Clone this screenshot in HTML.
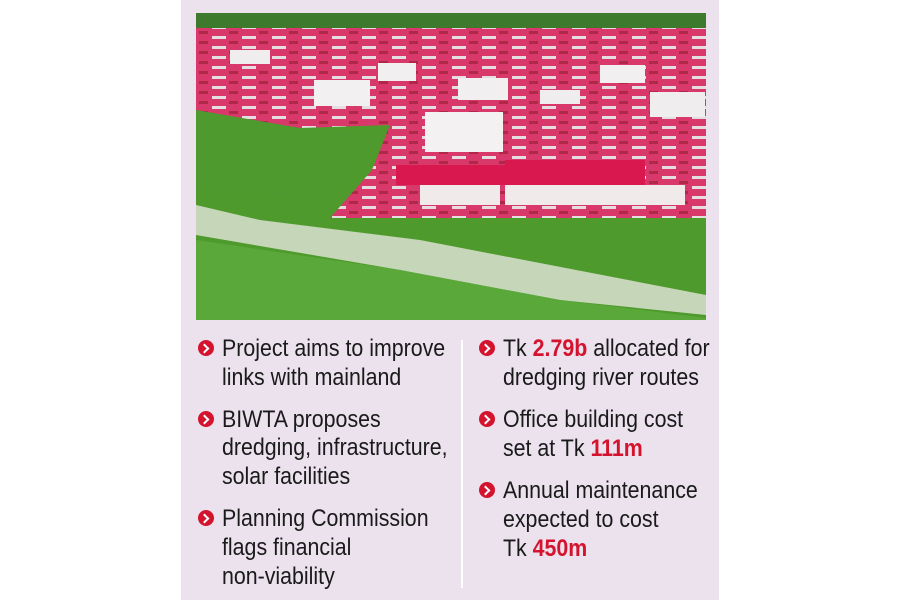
<!DOCTYPE html>
<html><head><meta charset="utf-8"><style>
body{margin:0;width:900px;height:600px;background:#fff;position:relative;overflow:hidden;font-family:"Liberation Sans",sans-serif;}
#panel{position:absolute;left:181px;top:0;width:538px;height:600px;background:#ebe2ee;}
.l{position:absolute;font-size:24px;color:#1a1a1a;white-space:nowrap;line-height:29px;transform:scaleX(0.89);transform-origin:left center;}
.b{position:absolute;width:16px;height:16px;border-radius:50%;background:#d4142e;}
.b:after{content:"";position:absolute;left:3px;top:4.5px;width:5px;height:5px;border-top:2.5px solid #fff;border-right:2.5px solid #fff;transform:rotate(45deg);}
.r{color:#d4142e;font-weight:bold;}
#div{position:absolute;left:461px;top:340px;width:2px;height:248px;background:#fff;}
</style></head><body>
<div id="panel"></div>
<svg style="position:absolute;left:196px;top:13px" width="510" height="307" viewBox="196 13 510 307">
<defs>
<pattern id="city" width="30" height="10" patternUnits="userSpaceOnUse">
<rect width="30" height="10" fill="#d8386a"/>
<rect x="2" y="6" width="14" height="3" fill="#e6dde2"/>
<rect x="19" y="1" width="9" height="3" fill="#b02848"/>
</pattern>
</defs>
<rect x="196" y="13" width="510" height="307" fill="#4f9a2c"/>
<rect x="196" y="13" width="510" height="18" fill="#3d7a2e"/>
<polygon points="196,28 706,28 706,218 330,218 372,170 390,125 300,128 196,112" fill="url(#city)"/>
<rect x="314" y="80" width="56" height="26" fill="#f2f0f0"/>
<rect x="425" y="112" width="78" height="40" fill="#f3f1f1"/>
<rect x="458" y="78" width="50" height="22" fill="#f1efef"/>
<rect x="650" y="92" width="55" height="25" fill="#efeded"/>
<rect x="600" y="65" width="45" height="18" fill="#f1efef"/>
<rect x="378" y="63" width="38" height="18" fill="#f1efef"/>
<rect x="230" y="50" width="40" height="14" fill="#efeded"/>
<rect x="540" y="90" width="40" height="14" fill="#efeded"/>
<rect x="396" y="165" width="120" height="20" fill="#d8184f"/>
<rect x="505" y="160" width="140" height="25" fill="#d8184f"/>
<rect x="420" y="185" width="80" height="20" fill="#f0eaea"/>
<rect x="505" y="185" width="180" height="20" fill="#f0eaea"/>
<polygon points="196,205 260,220 420,240 706,295 706,315 560,300 400,270 196,235" fill="#d9e0d2" opacity=".85"/>
<polygon points="196,240 400,270 560,300 706,318 706,320 196,320" fill="#5aa83a"/>
<polygon points="196,110 300,128 380,135 330,200 196,190" fill="#4e9a2e"/>
</svg>
<div id="div"></div>

<div class="b" style="left:198px;top:340px"></div>
<div class="l" style="left:222px;top:334px">Project aims to improve</div>
<div class="l" style="left:222px;top:363px">links with mainland</div>
<div class="b" style="left:198px;top:411px"></div>
<div class="l" style="left:222px;top:405px">BIWTA proposes</div>
<div class="l" style="left:222px;top:433px">dredging, infrastructure,</div>
<div class="l" style="left:222px;top:462px">solar facilities</div>
<div class="b" style="left:198px;top:510px"></div>
<div class="l" style="left:222px;top:504px">Planning Commission</div>
<div class="l" style="left:222px;top:533px">flags financial</div>
<div class="l" style="left:222px;top:562px">non-viability</div>

<div class="b" style="left:479px;top:340px"></div>
<div class="l" style="left:503px;top:334px">Tk <span class="r">2.79b</span> allocated for</div>
<div class="l" style="left:503px;top:363px">dredging river routes</div>
<div class="b" style="left:479px;top:411px"></div>
<div class="l" style="left:503px;top:405px">Office building cost</div>
<div class="l" style="left:503px;top:434px">set at Tk <span class="r">111m</span></div>
<div class="b" style="left:479px;top:482px"></div>
<div class="l" style="left:503px;top:476px">Annual maintenance</div>
<div class="l" style="left:503px;top:505px">expected to cost</div>
<div class="l" style="left:503px;top:534px">Tk <span class="r">450m</span></div>
</body></html>
